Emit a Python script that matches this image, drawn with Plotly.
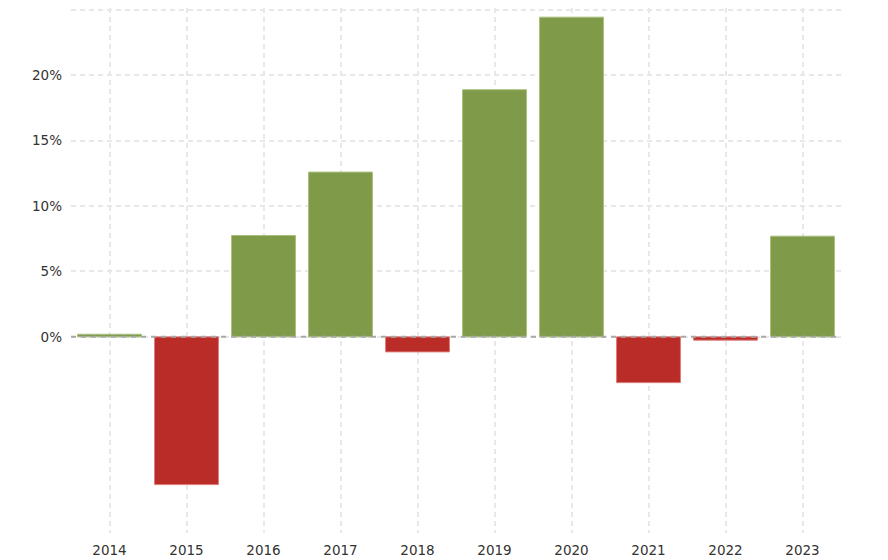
import plotly.graph_objects as go

years = ["2014", "2015", "2016", "2017", "2018", "2019", "2020", "2021", "2022", "2023"]
returns = [0.2, -11.3, 7.75, 12.6, -1.15, 18.9, 24.45, -3.5, -0.25, 7.7]

tick_vals = [0, 5, 10, 15, 20, 25]
tick_text = ["0%", "5%", "10%", "15%", "20%", ""]

GREEN = "#7f9a48"
RED = "#b92c28"

fill = [GREEN if v >= 0 else RED for v in returns]
edge = ["#a9c07c" if v >= 0 else "#e07c78" for v in returns]

fig = go.Figure(
    go.Bar(
        x=years,
        y=returns,
        marker=dict(color=fill, line=dict(color=edge, width=1)),
        width=0.83,
        hoverinfo="x+y",
    )
)

# dashed zero line drawn over the bars
fig.add_shape(
    type="line", xref="paper", yref="y", x0=0, x1=1, y0=0, y1=0,
    line=dict(color="#a8a8a8", width=2, dash="5px,5px"), layer="above",
)

# the page body adds an 8px offset, so margins are trimmed to compensate
fig.update_layout(
    width=888,
    height=560,
    margin=dict(l=63, r=55, t=0, b=35),
    paper_bgcolor="white",
    plot_bgcolor="white",
    showlegend=False,
    font=dict(family="DejaVu Sans", size=13.5, color="#333333"),
)
fig.update_xaxes(
    showgrid=True,
    gridcolor="#e8e8e8",
    griddash="5px,4px",
    gridwidth=2,
    showline=False,
    ticks="",
    ticklabelstandoff=7,
)
fig.update_yaxes(
    range=[-15.0, 25.15],
    tickvals=tick_vals,
    ticktext=tick_text,
    showgrid=True,
    gridcolor="#e8e8e8",
    griddash="5px,4px",
    gridwidth=2,
    zeroline=False,
    showline=False,
    ticks="",
    ticklabelstandoff=8,
)

fig.write_html("out.html")
